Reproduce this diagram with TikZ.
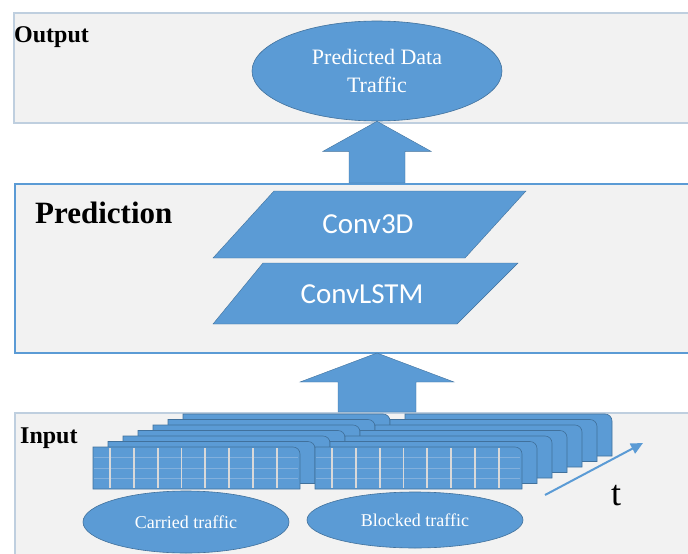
\documentclass[tikz,border=0pt]{standalone}
\usepackage{fontspec}
\setmainfont{Liberation Serif}
\newfontfamily\calib{Carlito}
\usetikzlibrary{shapes.geometric,arrows.meta,calc}
\definecolor{boxblue}{HTML}{5B9BD5}
\definecolor{boxedge}{HTML}{41719C}
\definecolor{panelfill}{HTML}{F2F2F2}
\definecolor{paleedge}{HTML}{BFCFDF}
\definecolor{gridline}{HTML}{D9D9D9}
\definecolor{gridrow}{HTML}{82B0DD}
\tikzset{
  panel/.style={rectangle, fill=panelfill, anchor=north west, inner sep=0pt},
  heading/.style={anchor=base west, inner sep=0pt, font=\bfseries},
  blob/.style={ellipse, fill=boxblue, draw=boxedge, line width=0.6pt, inner sep=0pt, text=white, align=center},
  layerbox/.style={fill=boxblue, draw=boxedge, line width=0.4pt},
  layertext/.style={text=white, inner sep=0pt, font=\calib\fontsize{29}{34}\selectfont},
  blockarrow/.style={fill=boxblue, draw=boxedge, line width=0.4pt},
  dataframe/.style={fill=boxblue, draw=boxedge, line width=0.6pt},
}
\begin{document}
\begin{tikzpicture}[x=1pt,y=-1pt]
\useasboundingbox (0,0) rectangle (688,554);
\clip (0,0) rectangle (688,554);

% three stage panels
\node[panel, draw=paleedge, line width=2pt, minimum width=700, minimum height=110] (outpanel) at (13,12) {};
\node[panel, draw=boxblue, line width=1.5pt, minimum width=700, minimum height=169] (predpanel) at (14,183) {};
\node[panel, draw=paleedge, line width=2pt, minimum width=700, minimum height=170] (inpanel) at (14,412) {};

\node[heading, font=\bfseries\fontsize{24}{28}\selectfont] (outlabel) at (14,42) {Output};
\node[heading, font=\bfseries\fontsize{31}{35}\selectfont] (predlabel) at (35,223) {Prediction};
\node[heading, font=\bfseries\fontsize{24}{28}\selectfont] (inlabel) at (20,443) {Input};

% output
\node[blob, minimum width=250, minimum height=100, font=\fontsize{22}{28}\selectfont] (outell) at (377,71) {Predicted Data\\Traffic};

% prediction layers
\draw[layerbox] (274,191) -- (526,191) -- (465,258) -- (213,258) -- cycle;
\node[layertext] (conv3d) at (368,224) {Conv3D};
\draw[layerbox] (263,263) -- (518,263) -- (457,324) -- (213,324) -- cycle;
\node[layertext] (convlstm) at (362,294) {ConvLSTM};

% block arrows between the stages
\coordinate (a1base) at (outell.south |- predpanel.north);
\draw[blockarrow] let \p1=(a1base), \p2=(outell.south) in
  (\x1-28pt,\y1) -- (\x1-28pt,\y2-30pt) -- (\x1-54pt,\y2-30pt) -- (\x1,\y2)
  -- (\x1+54pt,\y2-30pt) -- (\x1+28pt,\y2-30pt) -- (\x1+28pt,\y1) -- cycle;
\coordinate (a2tip) at (377,353);
\coordinate (a2base) at (a2tip |- inpanel.north);
\draw[blockarrow] let \p1=(a2base), \p2=(a2tip) in
  (\x1-39pt,\y1) -- (\x1-39pt,\y2-29pt) -- (\x1-77pt,\y2-29pt) -- (\x1,\y2)
  -- (\x1+77pt,\y2-29pt) -- (\x1+39pt,\y2-29pt) -- (\x1+39pt,\y1) -- cycle;

% stacked input frames, back to front, rounded at the top right
\foreach \k in {6,5,...,0}{
  \foreach \gx in {93,315}{
    \pgfmathsetmacro\fx{\gx+15*\k}
    \pgfmathsetmacro\fy{447-5.5*\k}
    \draw[dataframe] (\fx,\fy+42) -- (\fx,\fy) [rounded corners=7pt] -- (\fx+207,\fy) [sharp corners] -- (\fx+207,\fy+42) -- cycle;
  }
}
% grid on the front frames
\foreach \gx in {93,315}{
  \foreach \r in {10,21,31}
    \draw[gridrow, line width=0.8pt] (\gx+1,447+\r) -- (\gx+205,447+\r);
  \foreach \i in {0,...,7}
    \draw[gridline, line width=1.8pt] (\gx+17+23.8*\i,448) -- (\gx+17+23.8*\i,488);
}

% input sources
\node[blob, minimum width=206, minimum height=62, font=\fontsize{18}{22}\selectfont] (carried) at (186,522) {Carried traffic};
\node[blob, minimum width=216, minimum height=56, font=\fontsize{18}{22}\selectfont] (blocked) at (415,520) {Blocked traffic};

% time axis
\coordinate (tstart) at (545,495);
\coordinate (tend) at (643,443);
\draw[boxblue, line width=2pt, -{Triangle[length=12pt,width=11pt]}] (tstart) -- (tend);
\node[inner sep=0pt, font=\fontsize{36}{40}\selectfont] (tlabel) at (616,496) {t};
\end{tikzpicture}
\end{document}
